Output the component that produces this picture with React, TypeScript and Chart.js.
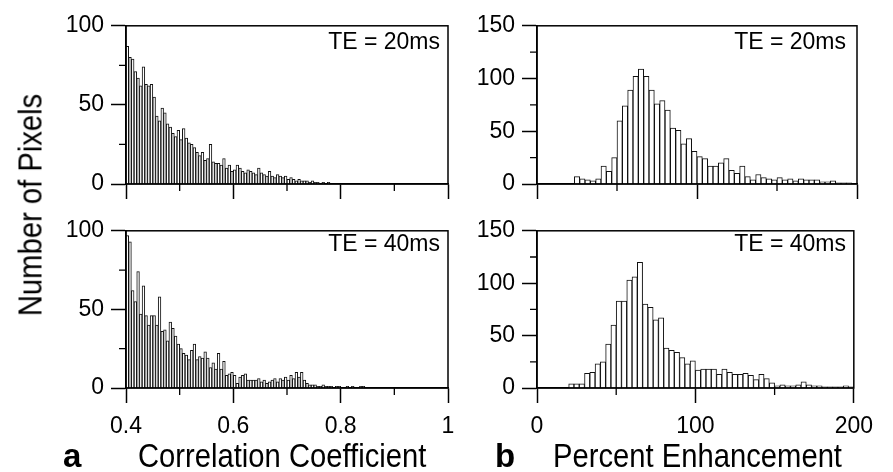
import React, { useEffect, useRef } from "react";
import { Chart, registerables } from "chart.js";

Chart.register(...registerables);

// ---- Correlation coefficient histograms (bins of 0.005 from 0.4) ----
const ccBinStart = 0.4;
const ccBinWidth = 0.005;
const ccCountsTE20 = [
  87, 80, 79, 71, 67, 62, 74, 63, 62, 63, 55, 43, 40, 48, 45, 38, 36, 32, 30, 34,
  28, 35, 29, 26, 25, 23, 20, 18, 20, 15, 16, 25, 14, 13, 13, 12, 16, 10, 12, 8,
  9, 12, 10, 8, 7, 9, 8, 7, 6, 10, 7, 6, 5, 8, 5, 4, 6, 5, 4, 5,
  3, 4, 3, 2, 3, 2, 2, 2, 1, 2, 1, 1, 0, 1, 0, 1,
];
const ccCountsTE40 = [
  97, 93, 62, 55, 74, 47, 65, 46, 40, 46, 46, 40, 58, 36, 37, 30, 42, 38, 33, 28,
  25, 22, 21, 18, 24, 28, 18, 20, 19, 23, 19, 13, 16, 12, 22, 12, 17, 8, 9, 10,
  8, 3, 7, 8, 9, 5, 5, 5, 5, 6, 4, 5, 3, 4, 5, 6, 4, 6, 5, 7,
  5, 8, 6, 10, 7, 10, 5, 3, 2, 2, 2, 1, 1, 2, 1, 1, 1, 0, 1, 1,
  0, 0, 1, 0, 1, 0, 0, 1, 1,
];
const ccMinorX = [0.5, 0.7, 0.9];
const ccMinorY = [25, 75];

// ---- Percent enhancement histograms (bins of 10/3 %) ----
const peBinWidth = 10 / 3;
const peFirstBinTE20 = 7;
const peCountsTE20 = [
  7, 5, 4, 3, 5, 17, 12, 25, 60, 74, 89, 102, 109, 102, 89, 76, 79, 70, 53, 51,
  38, 43, 31, 26, 24, 17, 17, 20, 24, 13, 10, 17, 7, 4, 9, 6, 5, 4, 6, 4,
  5, 3, 5, 4, 4, 4, 2, 2, 3, 1, 1, 1,
];
const peFirstBinTE40 = 6;
const peCountsTE40 = [
  4, 4, 4, 14, 15, 23, 25, 42, 60, 83, 83, 103, 106, 120, 80, 77, 65, 67, 38, 36,
  34, 29, 23, 26, 17, 18, 18, 18, 13, 18, 15, 13, 13, 14, 12, 8, 13, 9, 5, 2,
  3, 2, 2, 3, 6, 3, 2, 2, 1, 1, 1, 1, 2, 1,
];
const peMinorX = [50, 150];
const peMinorY = [25, 75, 125];

const FONT = '"Liberation Sans", Arial, Helvetica, sans-serif';

const framePlugin = {
  id: "frame",
  afterDraw(chart: any, _args: any, opts: any) {
    const { ctx, chartArea: a, scales } = chart;
    ctx.save();
    ctx.strokeStyle = "#000";
    ctx.lineWidth = 1.5;
    ctx.strokeRect(a.left, a.top, a.right - a.left, a.bottom - a.top);
    ctx.lineWidth = 1.3;
    ctx.beginPath();
    for (const v of opts.minorX || []) {
      const px = scales.x.getPixelForValue(v);
      ctx.moveTo(px, a.bottom);
      ctx.lineTo(px, a.bottom + 7);
    }
    for (const v of opts.minorY || []) {
      const py = scales.y.getPixelForValue(v);
      ctx.moveTo(a.left, py);
      ctx.lineTo(a.left - 7, py);
    }
    ctx.stroke();
    ctx.restore();
  },
};

type PanelProps = {
  plotLeft: number;
  plotTop: number;
  plotW: number;
  plotH: number;
  xLabels: boolean;
  points: { x: number; y: number }[];
  xMin: number;
  xMax: number;
  xStep: number;
  yMax: number;
  yStep: number;
  minorX: number[];
  minorY: number[];
};

const Y_W = 80;
const PAD_T = 16;
const PAD_R = 26;

function Panel(p: PanelProps) {
  const ref = useRef<HTMLCanvasElement | null>(null);
  const xH = p.xLabels ? 60 : 24;
  const cw = Y_W + p.plotW + PAD_R;
  const ch = PAD_T + p.plotH + xH;

  useEffect(() => {
    if (!ref.current) return;
    const tickFont = { family: FONT, size: 23 };
    const chart = new Chart(ref.current, {
      type: "bar",
      data: {
        datasets: [
          {
            data: p.points,
            backgroundColor: "#ffffff",
            borderColor: "#111111",
            borderWidth: 1,
            barPercentage: 1,
            categoryPercentage: 1,
          },
        ],
      },
      options: {
        responsive: false,
        animation: false,
        devicePixelRatio: 1,
        layout: { padding: { top: PAD_T, right: PAD_R, left: 0, bottom: 0 } },
        plugins: {
          legend: { display: false },
          tooltip: { enabled: false },
          frame: { minorX: p.minorX, minorY: p.minorY },
        } as any,
        scales: {
          x: {
            type: "linear",
            min: p.xMin,
            max: p.xMax,
            offset: false,
            ticks: {
              stepSize: p.xStep,
              autoSkip: false,
              maxRotation: 0,
              color: "#000",
              font: tickFont,
              padding: 10,
              callback: (v: any) => (p.xLabels ? String(Math.round(Number(v) * 10) / 10) : ""),
            },
            grid: {
              offset: false,
              drawOnChartArea: false,
              drawTicks: true,
              tickLength: 15,
              tickColor: "#000",
              tickWidth: 1.5,
            },
            border: { display: true, color: "#000", width: 1.5 },
            afterFit: (s: any) => {
              s.height = xH;
            },
          },
          y: {
            type: "linear",
            min: 0,
            max: p.yMax,
            ticks: {
              stepSize: p.yStep,
              autoSkip: false,
              color: "#000",
              font: tickFont,
              padding: 7,
            },
            grid: {
              drawOnChartArea: false,
              drawTicks: true,
              tickLength: 15,
              tickColor: "#000",
              tickWidth: 1.5,
            },
            border: { display: true, color: "#000", width: 1.5 },
            afterFit: (s: any) => {
              s.width = Y_W;
            },
          },
        } as any,
      },
      plugins: [framePlugin as any],
    });
    return () => chart.destroy();
  }, []);

  return (
    <canvas
      ref={ref}
      width={cw}
      height={ch}
      style={{
        position: "absolute",
        left: p.plotLeft - Y_W,
        top: p.plotTop - PAD_T,
        width: cw,
        height: ch,
      }}
    />
  );
}

const ccPoints = (counts: number[]) =>
  counts.map((c, i) => ({ x: ccBinStart + (i + 0.5) * ccBinWidth, y: c }));
const pePoints = (first: number, counts: number[]) =>
  counts.map((c, i) => ({ x: (first + i + 0.5) * peBinWidth, y: c }));

const teStyle = (right: number, top: number): React.CSSProperties => ({
  position: "absolute",
  right: 893 - right,
  top,
  fontSize: 23,
  lineHeight: 1,
  whiteSpace: "nowrap",
});

const titleStyle = (left: number, top: number): React.CSSProperties => ({
  position: "absolute",
  left,
  top,
  fontSize: 33,
  lineHeight: 1,
  whiteSpace: "nowrap",
  transform: "scaleX(0.885)",
  transformOrigin: "left top",
});

export default function App() {
  return (
    <div
      style={{
        position: "absolute",
        left: 0,
        top: 0,
        width: 893,
        height: 472,
        background: "#fff",
        fontFamily: FONT,
        color: "#000",
        overflow: "hidden",
      }}
    >
      <Panel plotLeft={126} plotTop={21} plotW={322} plotH={163} xLabels={false}
        points={ccPoints(ccCountsTE20)} xMin={0.4} xMax={1} xStep={0.2} yMax={100} yStep={50}
        minorX={ccMinorX} minorY={ccMinorY} />
      <Panel plotLeft={126} plotTop={226} plotW={322} plotH={162} xLabels={true}
        points={ccPoints(ccCountsTE40)} xMin={0.4} xMax={1} xStep={0.2} yMax={100} yStep={50}
        minorX={ccMinorX} minorY={ccMinorY} />
      <Panel plotLeft={537} plotTop={21} plotW={320} plotH={163} xLabels={false}
        points={pePoints(peFirstBinTE20, peCountsTE20)} xMin={0} xMax={200} xStep={100} yMax={150} yStep={50}
        minorX={peMinorX} minorY={peMinorY} />
      <Panel plotLeft={537} plotTop={226} plotW={320} plotH={162} xLabels={true}
        points={pePoints(peFirstBinTE40, peCountsTE40)} xMin={0} xMax={200} xStep={100} yMax={150} yStep={50}
        minorX={peMinorX} minorY={peMinorY} />

      <div style={teStyle(440, 30)}>TE = 20ms</div>
      <div style={teStyle(440, 232)}>TE = 40ms</div>
      <div style={teStyle(846, 30)}>TE = 20ms</div>
      <div style={teStyle(846, 232)}>TE = 40ms</div>

      <div
        style={{
          position: "absolute",
          left: 30,
          top: 205,
          fontSize: 33,
          lineHeight: 1,
          whiteSpace: "nowrap",
          transform: "translate(-50%, -50%) rotate(-90deg) scaleX(0.885)",
        }}
      >
        Number of Pixels
      </div>

      <div style={{ ...titleStyle(63, 439), fontWeight: "bold", transform: "none" }}>a</div>
      <div style={titleStyle(138, 439)}>Correlation Coefficient</div>
      <div style={{ ...titleStyle(495, 439), fontWeight: "bold", transform: "none" }}>b</div>
      <div style={titleStyle(553, 439)}>Percent Enhancement</div>
    </div>
  );
}
